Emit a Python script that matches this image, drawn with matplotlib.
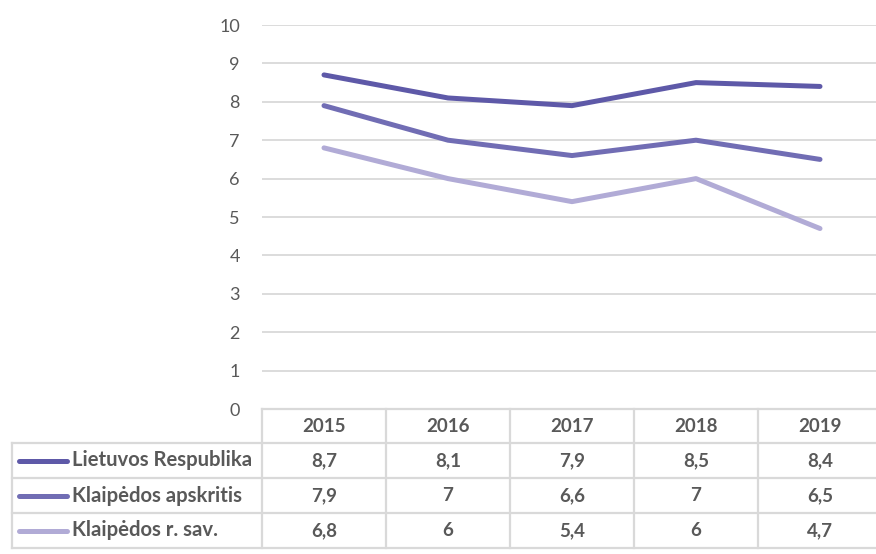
import matplotlib
matplotlib.use("Agg")
import matplotlib.pyplot as plt
from matplotlib.lines import Line2D

plt.rcParams['font.family'] = ['Lato', 'DejaVu Sans']

years = ["2015", "2016", "2017", "2018", "2019"]
series_names = ["Lietuvos Respublika", "Klaipėdos apskritis", "Klaipėdos r. sav."]
lr = [8.7, 8.1, 7.9, 8.5, 8.4]
ka = [7.9, 7.0, 6.6, 7.0, 6.5]
krs = [6.8, 6.0, 5.4, 6.0, 4.7]
series_values = [lr, ka, krs]
colors = ["#5E59A8", "#716DB4", "#B1ABD6"]
yticks = list(range(0, 11))

W, H = 876, 554
TXT = "#595959"
GRID = "#D9D9D9"

fig = plt.figure(figsize=(W / 100, H / 100), dpi=100)

# plot area in pixels
x0, x1 = 262, 882
y_top, y_bot = 25, 409
ax = fig.add_axes([x0 / W, (H - y_bot) / H, (x1 - x0) / W, (y_bot - y_top) / H])
ax.set_xlim(-0.5, len(years) - 0.5)
ax.set_ylim(0, 10)
ax.set_yticks(yticks)
ax.set_yticklabels([str(t) for t in yticks], fontsize=13, color=TXT)
ax.tick_params(axis='y', length=0, pad=16)
ax.set_xticks([])
for s in ax.spines.values():
    s.set_visible(False)
ax.grid(axis='y', color=GRID, linewidth=1.3)
ax.set_axisbelow(True)
ax.patch.set_alpha(0)

xs = list(range(len(years)))
for vals, c in zip(series_values, colors):
    ax.plot(xs, vals, color=c, linewidth=3.6, solid_capstyle='round',
            solid_joinstyle='round', clip_on=False)

# data table
def fx(x):
    return x / W

def fy(y):
    return 1 - y / H

tf = fig.transFigure
row_lines = [409, 443, 478, 513, 548]
col_w = (x1 - x0) / len(years)
col_lines = [x0 + i * col_w for i in range(len(years) + 1)]
left = 12

def hline(y, xa, xb):
    fig.add_artist(Line2D([fx(xa), fx(xb)], [fy(y), fy(y)], transform=tf,
                          color=GRID, linewidth=1.6))

def vline(x, ya, yb):
    fig.add_artist(Line2D([fx(x), fx(x)], [fy(ya), fy(yb)], transform=tf,
                          color=GRID, linewidth=1.6))

hline(row_lines[0], x0, W + 10)
for y in row_lines[1:]:
    hline(y, left, W + 10)
vline(left, row_lines[1], row_lines[-1])
for x in col_lines:
    vline(x, row_lines[0], row_lines[-1])

# header
hy = (row_lines[0] + row_lines[1]) / 2
for i, yr in enumerate(years):
    cx = x0 + (i + 0.5) * col_w
    fig.text(fx(cx), fy(hy), yr, ha='center', va='center', fontsize=13.5,
             fontweight='bold', color=TXT)

# rows
for r, (name, vals, c) in enumerate(zip(series_names, series_values, colors)):
    cy = (row_lines[r + 1] + row_lines[r + 2]) / 2
    fig.add_artist(Line2D([fx(19), fx(67)], [fy(cy), fy(cy)], transform=tf,
                          color=c, linewidth=3.6, solid_capstyle='round'))
    fig.text(fx(72), fy(cy), name, ha='left', va='center', fontsize=14.6,
             fontweight='bold', color=TXT)
    for i, v in enumerate(vals):
        cx = x0 + (i + 0.5) * col_w
        s = f"{v:g}".replace('.', ',')
        fig.text(fx(cx), fy(cy), s, ha='center', va='center', fontsize=13.5,
                 fontweight='bold', color=TXT)

fig.savefig("out.png", dpi=100)
